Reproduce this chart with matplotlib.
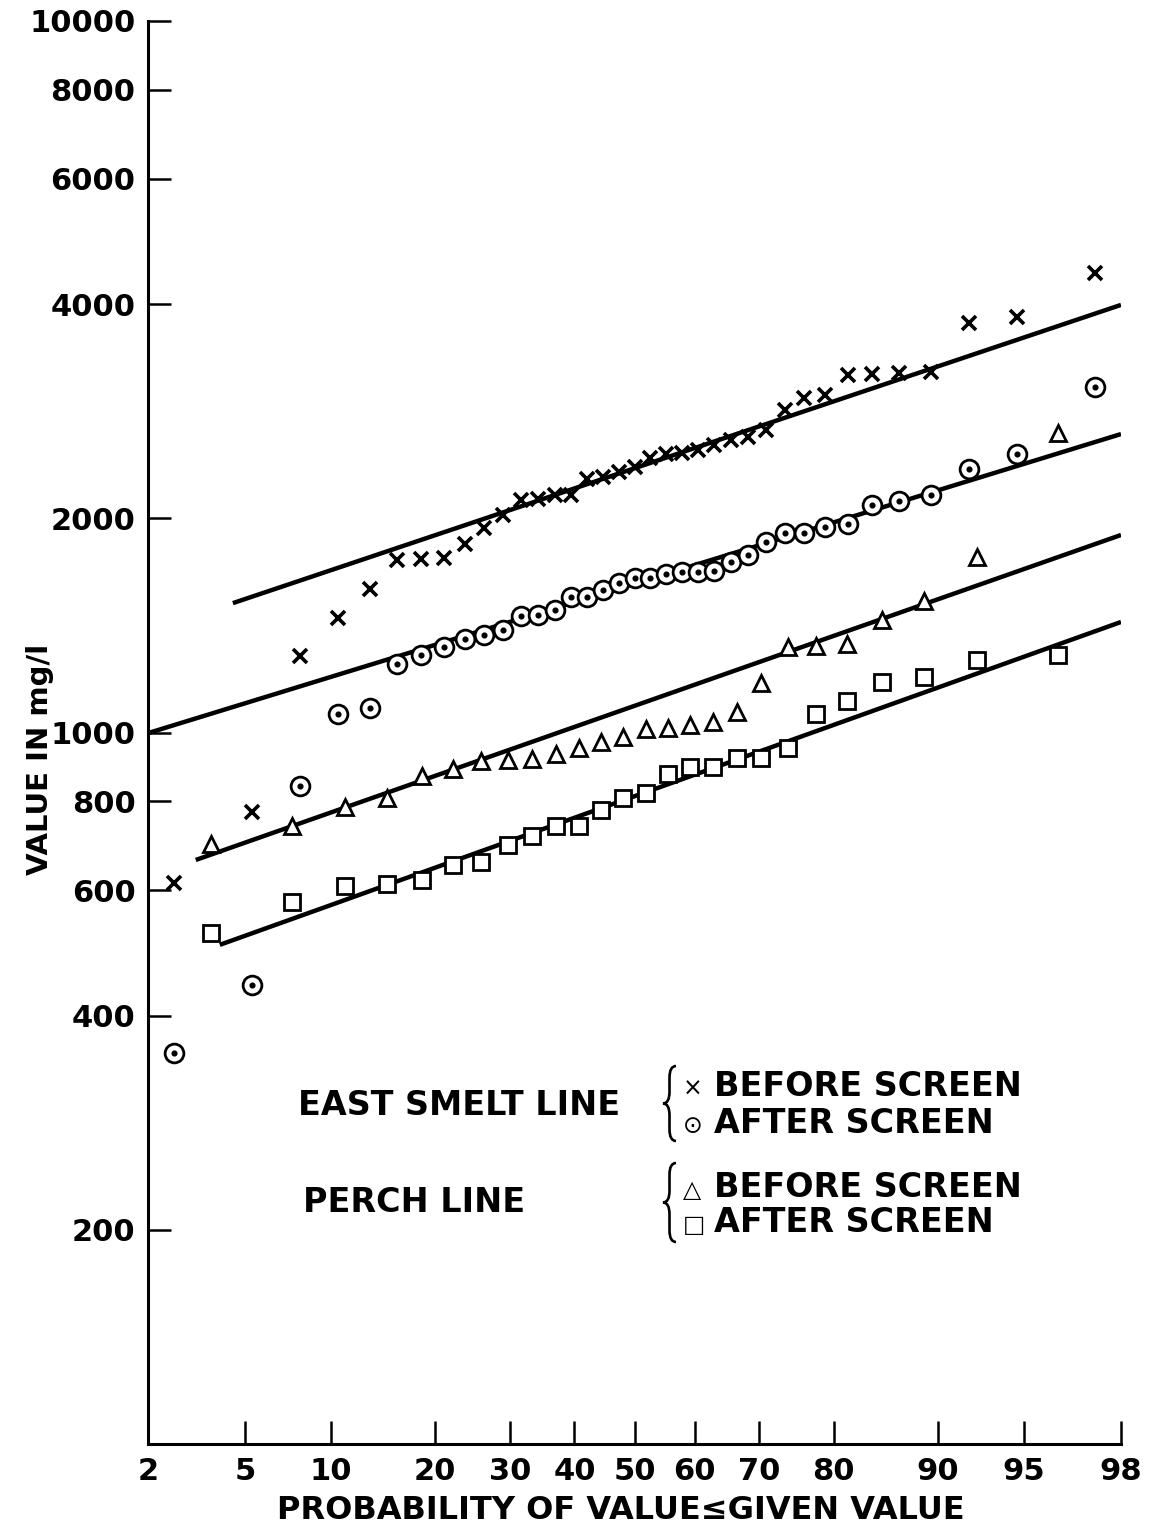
import statistics
import matplotlib
matplotlib.use("Agg")
import matplotlib.pyplot as plt
from matplotlib.path import Path
from matplotlib.patches import PathPatch

# plotting positions (% of values <= given value), 37 samples for the smelt line, 26 for perch
prob_smelt = [2.6, 5.3, 7.9, 10.5, 13.2, 15.8, 18.4, 21.1, 23.7, 26.3, 28.9, 31.6, 34.2,
              36.8, 39.5, 42.1, 44.7, 47.4, 50.0, 52.6, 55.3, 57.9, 60.5, 63.2, 65.8,
              68.4, 71.1, 73.7, 76.3, 78.9, 81.6, 84.2, 86.8, 89.5, 92.1, 94.7, 97.4]
prob_perch = [3.7, 7.4, 11.1, 14.8, 18.5, 22.2, 25.9, 29.6, 33.3, 37.0, 40.7, 44.4, 48.1,
              51.9, 55.6, 59.3, 63.0, 66.7, 70.4, 74.1, 77.8, 81.5, 85.2, 88.9, 92.6, 96.3]

# mg/l
smelt_before = [615, 772, 1280, 1450, 1590, 1750, 1755, 1760, 1840, 1940, 2020, 2125, 2130,
                2155, 2160, 2275, 2285, 2320, 2360, 2435, 2465, 2470, 2495, 2535, 2575,
                2600, 2660, 2840, 2950, 2980, 3180, 3195, 3205, 3210, 3760, 3835, 4420]
smelt_after = [355, 441, 842, 1063, 1081, 1250, 1283, 1317, 1352, 1373, 1392, 1456, 1461,
               1485, 1548, 1550, 1584, 1620, 1647, 1648, 1668, 1679, 1680, 1685, 1734,
               1774, 1850, 1905, 1910, 1942, 1961, 2085, 2113, 2154, 2344, 2460, 3057]
perch_before = [698, 738, 787, 810, 870, 890, 913, 915, 919, 934, 952, 971, 987,
                1010, 1016, 1023, 1033, 1070, 1172, 1317, 1321, 1330, 1441, 1529, 1762, 2634]
perch_after = [522, 577, 608, 613, 621, 652, 657, 694, 716, 738, 738, 779, 808,
               821, 873, 893, 893, 922, 922, 952, 1063, 1109, 1176, 1195, 1266, 1283]

# fitted lines, end points (probability %, mg/l)
fit_smelt_before = ([4.5, 98.0], [1520, 3990])
fit_smelt_after = ([2.0, 98.0], [998, 2627])
fit_perch_before = ([3.2, 98.0], [662, 1895])
fit_perch_after = ([4.0, 98.0], [503, 1430])

prob_ticks = [2, 5, 10, 20, 30, 40, 50, 60, 70, 80, 90, 95, 98]
value_ticks = [200, 400, 600, 800, 1000, 2000, 4000, 6000, 8000, 10000]

nd = statistics.NormalDist()


def zs(p):
    return [nd.inv_cdf(v / 100.0) for v in p]


W, H = 1155, 1529
fig = plt.figure(figsize=(W / 100, H / 100), dpi=100)
ax = fig.add_axes([148 / W, 1 - 1444 / H, (1121 - 148) / W, (1444 - 21) / H])

for p, v in (fit_smelt_before, fit_smelt_after, fit_perch_before, fit_perch_after):
    ax.plot(zs(p), v, color="black", lw=3.2, solid_capstyle="butt", zorder=2)

ax.plot(zs(prob_smelt), smelt_before, ls="none", marker="x", color="black",
        ms=10.5, mew=2.6, zorder=3)
ax.plot(zs(prob_smelt), smelt_after, ls="none", marker="o", mfc="white", mec="black",
        ms=13.5, mew=2.0, zorder=3)
ax.plot(zs(prob_smelt), smelt_after, ls="none", marker="o", color="black", ms=3.4, zorder=4)
ax.plot(zs(prob_perch), perch_before, ls="none", marker="^", mfc="white", mec="black",
        ms=12, mew=2.0, zorder=3)
ax.plot(zs(prob_perch), perch_after, ls="none", marker="s", mfc="white", mec="black",
        ms=11.5, mew=2.0, zorder=3)

ax.set_yscale("log")
ax.set_ylim(100, 10000)
ax.set_xlim(nd.inv_cdf(0.02), nd.inv_cdf(0.98))
ax.set_xticks(zs(prob_ticks))
ax.set_xticklabels([str(t) for t in prob_ticks])
ax.set_yticks(value_ticks)
ax.set_yticklabels([str(t) for t in value_ticks])
ax.yaxis.set_minor_locator(matplotlib.ticker.NullLocator())

for s in ("top", "right"):
    ax.spines[s].set_visible(False)
for s in ("left", "bottom"):
    ax.spines[s].set_linewidth(2.2)
ax.tick_params(axis="both", direction="in", length=16.5, width=1.8, labelsize=22, pad=9)
for lab in ax.get_xticklabels() + ax.get_yticklabels():
    lab.set_fontweight("bold")

ax.set_xlabel("PROBABILITY OF VALUE\u2264GIVEN VALUE", fontsize=23, fontweight="bold")
ax.xaxis.set_label_coords(0.486, -0.036)
ax.set_ylabel("VALUE IN mg/l", fontsize=21, fontweight="bold")
ax.yaxis.set_label_coords(-0.097, 0.481)


def fpt(px, py):
    return px / W, 1 - py / H


def brace(x, top, bottom, w):
    # left curly brace, figure pixel coords measured from top-left
    mid = (top + bottom) / 2
    r = w * 0.9
    xm = x + w / 2
    pts = [(x + w, top), (xm, top), (xm, top + r), (xm, mid - r), (xm, mid), (x, mid),
           (xm, mid), (xm, mid + r), (xm, bottom - r), (xm, bottom), (x + w, bottom)]
    codes = [Path.MOVETO, Path.CURVE3, Path.CURVE3, Path.LINETO, Path.CURVE3, Path.CURVE3,
             Path.CURVE3, Path.CURVE3, Path.LINETO, Path.CURVE3, Path.CURVE3]
    path = Path([fpt(a, b) for a, b in pts], codes)
    fig.add_artist(PathPatch(path, transform=fig.transFigure, fill=False, lw=1.9,
                             edgecolor="black"))


fs = 24
fig.text(*fpt(298, 1115), "EAST SMELT LINE", fontsize=fs, fontweight="bold", va="baseline")
fig.text(*fpt(303, 1212), "PERCH LINE", fontsize=fs, fontweight="bold", va="baseline")
brace(663, 1066, 1141, 13)
brace(663, 1163, 1242, 13)

rows = [("\u00d7", "BEFORE SCREEN", 1096), ("\u2299", "AFTER SCREEN", 1133),
        ("\u25b3", "BEFORE SCREEN", 1197), ("\u25a1", "AFTER SCREEN", 1232)]
for sym, label, base in rows:
    fig.text(*fpt(683, base), sym, fontsize=17, va="baseline")
    fig.text(*fpt(714, base), label, fontsize=fs, fontweight="bold", va="baseline")

fig.savefig("out.png", dpi=100)
